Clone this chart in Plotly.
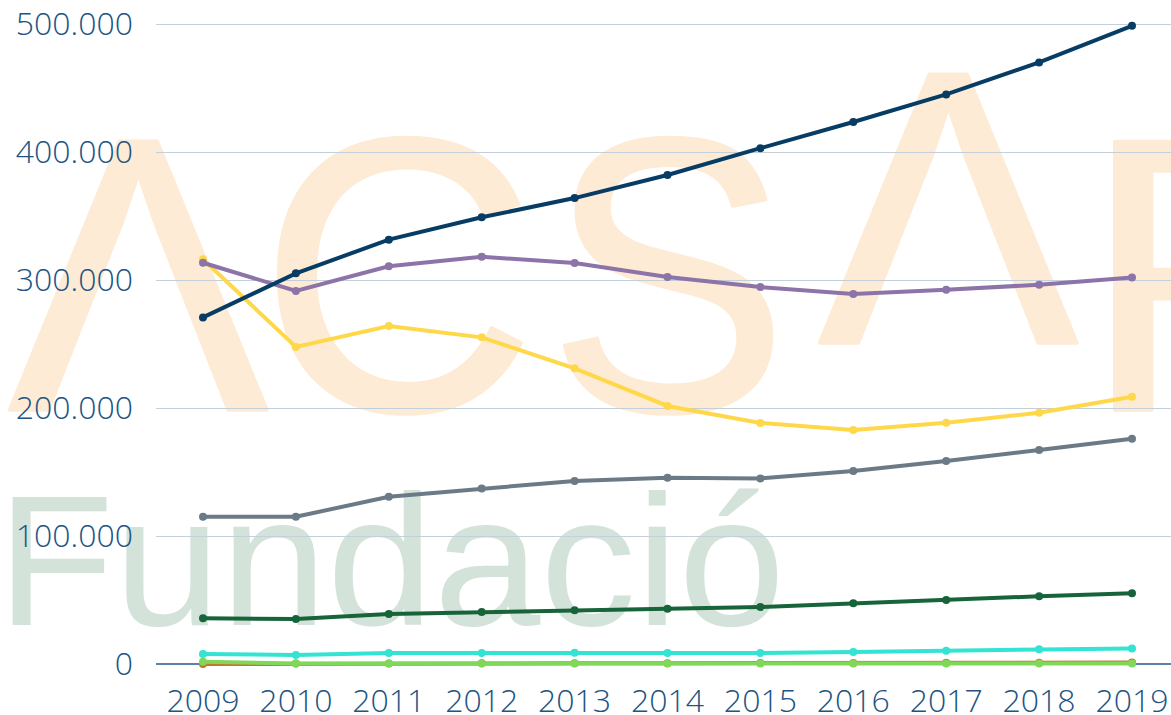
import base64
import plotly.graph_objects as go

years = [2009, 2010, 2011, 2012, 2013, 2014, 2015, 2016, 2017, 2018, 2019]

serie_navy = [270800, 305200, 331500, 349000, 364000, 382000, 403000, 423400, 445000, 470000, 498600]
serie_purple = [313500, 291400, 310700, 318200, 313200, 302300, 294500, 289000, 292400, 296300, 302000]
serie_yellow = [316200, 247700, 264000, 255200, 231000, 201600, 188300, 182800, 188500, 196300, 208800]
serie_gray = [115000, 115000, 130700, 137200, 143000, 145600, 145000, 150800, 158600, 167200, 176000]
serie_dkgreen = [35700, 35200, 39000, 40600, 42000, 43200, 44500, 47400, 50000, 52900, 55200]
serie_cyan = [7800, 7000, 8600, 8600, 8700, 8600, 8600, 9400, 10400, 11500, 12200]
serie_orange = [0, 300, 400, 500, 500, 600, 700, 800, 900, 1000, 1100]
serie_ltgreen = [1800, 300, 300, 300, 300, 300, 300, 300, 300, 300, 300]

y_tickvals = [0, 100000, 200000, 300000, 400000, 500000]
y_ticktext = ["0", "100.000", "200.000", "300.000", "400.000", "500.000"]

series = [
    (serie_orange, "#c8742a"),
    (serie_ltgreen, "#80d858"),
    (serie_cyan, "#33e3d3"),
    (serie_dkgreen, "#17643a"),
    (serie_gray, "#6a7a87"),
    (serie_yellow, "#ffd84a"),
    (serie_purple, "#8c73a8"),
    (serie_navy, "#073d64"),
]

fig = go.Figure()
for vals, col in series:
    fig.add_trace(go.Scatter(
        x=years, y=vals, mode="lines+markers",
        line=dict(color=col, width=4),
        marker=dict(color=col, size=8),
        showlegend=False,
    ))

# Watermark (background logo) as an SVG image placed below the plot
W, H = 1171, 715
L, R, T, B = 156, 0, 10, 40
orange = "#fdebd5"
green = "#d4e3d9"
svg = f'''<svg xmlns="http://www.w3.org/2000/svg" width="{W}" height="{H}" viewBox="0 0 {W} {H}">
<g fill="{orange}" stroke="{orange}" stroke-width="4" stroke-linejoin="round" font-family="Liberation Sans, Arial, sans-serif" font-size="390">
<text x="8" y="410">&#923;</text>
<text transform="translate(278,410) scale(0.98,1)" x="-19">C</text>
<text transform="translate(565,410) scale(0.92,1)" x="-18">S</text>
<text x="818" y="343">&#923;</text>
<text x="1083" y="410">R</text>
</g>
<text transform="translate(-3,625) scale(1.03,1)" x="0" y="0" font-family="Liberation Sans, Arial, sans-serif" font-size="186" fill="{green}">Fundaci&#243;</text>
</svg>'''
src = "data:image/svg+xml;base64," + base64.b64encode(svg.encode("utf-8")).decode("ascii")

pw, ph = W - L - R, H - T - B
fig.add_layout_image(dict(
    source=src, xref="paper", yref="paper",
    x=-L / pw, y=1 + T / ph, sizex=W / pw, sizey=H / ph,
    xanchor="left", yanchor="top", sizing="stretch", layer="below", opacity=1,
))

tickfont = dict(family="Open Sans", size=32, color="#215483", weight=300)
px_per_unit = 1.28 / 1000
y_top = (664 - T) / px_per_unit
y_bot = (664 - (H - B)) / px_per_unit
x_left = 2009 - (203 - L) / 92.9
x_right = 2009 + (W - R - 203) / 92.9

fig.update_layout(
    width=W, height=H,
    margin=dict(l=L, r=R, t=T, b=B, pad=0, autoexpand=False),
    paper_bgcolor="white", plot_bgcolor="rgba(0,0,0,0)",
    xaxis=dict(range=[x_left, x_right], tickvals=years, ticktext=[str(y) for y in years],
               showgrid=False, zeroline=False, showline=False, tickfont=tickfont,
               ticks="", ticklabelstandoff=4, automargin=False),
    yaxis=dict(range=[y_bot, y_top], tickvals=y_tickvals, ticktext=y_ticktext,
               showgrid=True, gridcolor="#c3cfd9", gridwidth=1,
               zeroline=True, zerolinecolor="#5d82a3", zerolinewidth=1.5,
               showline=False, tickfont=tickfont, ticks="", ticklabelstandoff=22,
               automargin=False),
)

fig.write_html(
    "out.html",
    config={"displayModeBar": False},
    post_script="document.body.style.margin='0';document.body.style.overflow='hidden';",
)
